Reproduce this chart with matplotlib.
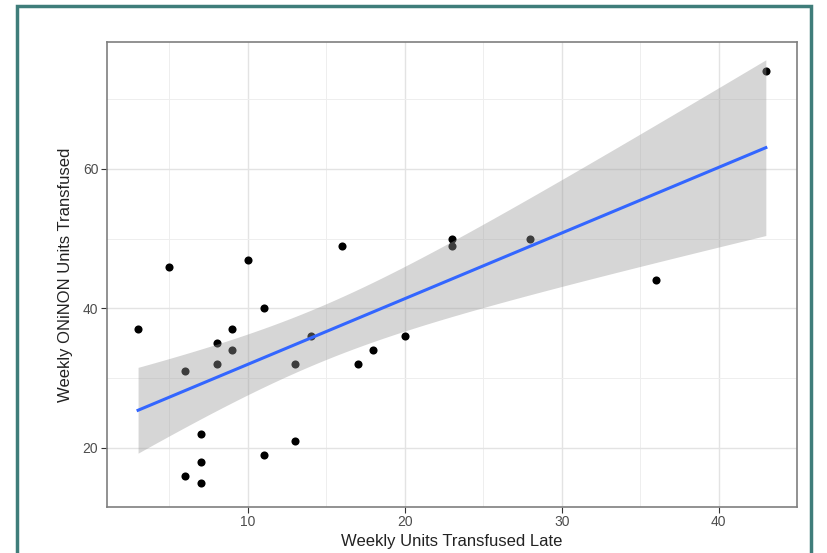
import numpy as np
import matplotlib
matplotlib.use("Agg")
import matplotlib.pyplot as plt
from matplotlib.patches import Rectangle

plt.rcParams['font.family'] = ['Liberation Sans', 'DejaVu Sans']

# weekly units transfused late vs weekly ONiNON units transfused
units_late = [3, 5, 6, 6, 7, 7, 7, 8, 8, 9, 9, 10, 11, 11, 13, 13, 14,
              16, 17, 18, 20, 23, 23, 28, 36, 43]
units_oninon = [37, 46, 31, 16, 22, 18, 15, 35, 32, 37, 34, 47, 40, 19, 32, 21, 36,
                49, 32, 34, 36, 50, 49, 50, 44, 74]

x = np.array(units_late, dtype=float)
y = np.array(units_oninon, dtype=float)

# linear fit with 95% confidence band (like geom_smooth(method="lm"))
n = len(x)
slope, intercept = np.polyfit(x, y, 1)
xs = np.linspace(x.min(), x.max(), 200)
fit = intercept + slope * xs
resid = y - (intercept + slope * x)
s = np.sqrt(np.sum(resid ** 2) / (n - 2))
t_val = 2.064  # t(0.975, df=24)
se = s * np.sqrt(1 / n + (xs - x.mean()) ** 2 / np.sum((x - x.mean()) ** 2))
lo, hi = fit - t_val * se, fit + t_val * se

fig = plt.figure(figsize=(8.27, 5.53), dpi=100)
ax = fig.add_axes([0.129, 0.083, 0.835, 0.841])

ax.scatter(x, y, s=34, color='black', zorder=2, linewidths=0)
ax.fill_between(xs, lo, hi, color='#999999', alpha=0.4, linewidth=0, zorder=3)
ax.plot(xs, fit, color='#3366FF', linewidth=2.2, zorder=4)

ax.set_xlim(1, 45)
ax.set_ylim(11.5, 78.2)
ax.set_xticks([10, 20, 30, 40])
ax.set_yticks([20, 40, 60])
ax.set_xticks([5, 15, 25, 35, 45], minor=True)
ax.set_yticks([30, 50, 70], minor=True)
ax.grid(which='major', color='#e3e3e3', linewidth=1.0, zorder=0)
ax.grid(which='minor', color='#eeeeee', linewidth=0.7, zorder=0)
ax.set_axisbelow(True)
ax.tick_params(which='minor', length=0)
ax.tick_params(which='major', length=4, color='#333333', labelsize=10,
               labelcolor='#4d4d4d', pad=2)
for sp in ax.spines.values():
    sp.set_color('#7f7f7f')
    sp.set_linewidth(1.2)

ax.set_xlabel('Weekly Units Transfused Late', fontsize=12, color='#222222', labelpad=3)
ax.set_ylabel('Weekly ONiNON Units Transfused', fontsize=12, color='#222222', labelpad=7)

# teal frame around the figure
fig.patches.append(Rectangle((17 / 827, -0.05), (811 - 17) / 827, 1.05 - 6 / 553,
                             transform=fig.transFigure, fill=False,
                             edgecolor='#3f7d7a', linewidth=2.5))

fig.savefig('out.png', dpi=100)
